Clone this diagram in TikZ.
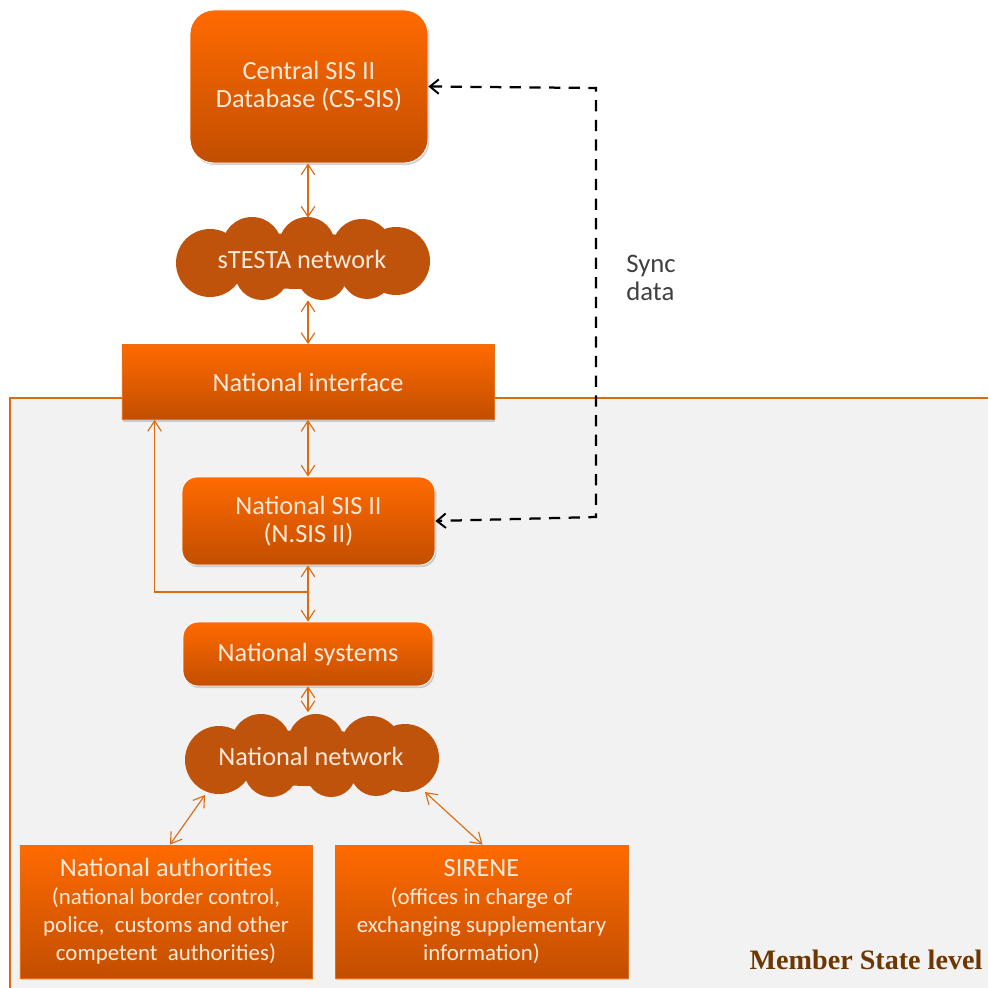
\documentclass[tikz,border=0pt]{standalone}
\usepackage{fontspec}
\setmainfont{Carlito}
\newfontfamily\levelfont{Liberation Serif}
\usepackage{xcolor}
\usepackage{tikz}
\usetikzlibrary{calc,arrows.meta,shadows}
\definecolor{sisTop}{HTML}{FF6A00}
\definecolor{sisBottom}{HTML}{C24E00}
\definecolor{sisLine}{HTML}{E0701A}
\definecolor{cloudFill}{HTML}{BF530C}
\definecolor{sisText}{HTML}{FFE9D9}
\definecolor{stateGrey}{HTML}{F2F2F2}
\definecolor{stateLine}{HTML}{DC6A12}
\definecolor{stateBrown}{HTML}{6E3600}
\definecolor{syncGrey}{HTML}{404040}
\newcommand{\subsize}{\fontsize{16.3}{17}\selectfont}
% puffs of a network cloud: dx/dy/radius in px from its centre
\newcommand{\cloudpuffs}{-92/4/34, -50/-12/30, 5/-14/28, 60/-10/30, 94/2/34, -40/14/27, 20/16/25, 65/14/26}
\tikzset{
  sisbox/.style={rectangle, draw=#1, line width=0.6pt, top color=sisTop, bottom color=sisBottom, text=sisText, align=center, font=\fontsize{18.7}{20}\selectfont, inner sep=2pt, drop shadow={shadow xshift=1pt, shadow yshift=-1.5pt, opacity=0.35}},
  sisbox/.default=sisLine,
  sisround/.style={sisbox=white, rounded corners=#1},
  sisnet/.style={rectangle, text=sisText, font=\fontsize{18.7}{20}\selectfont, inner sep=0pt},
  puff/.style={fill=cloudFill},
  linkarrow/.style={>={Straight Barb[length=2.6mm,width=3.4mm]}, line width=0.8pt, draw=stateLine},
  syncarrow/.style={>={Straight Barb[length=2.2mm,width=3.6mm,line width=1.4pt]}, line width=1.6pt, dash pattern=on 8pt off 6pt},
}
\begin{document}
\begin{tikzpicture}[x=0.25mm,y=-0.25mm]
  \useasboundingbox (0,0) rectangle (988,988);
  % member state area
  \fill[stateGrey] (10,398) rectangle (988,988);
  \draw[stateLine, line width=2pt] (10,988) -- (10,398) -- (988,398);
  \node[font=\levelfont\bfseries\fontsize{20}{22}\selectfont, text=stateBrown] (level) at (866,960) {Member State level};

  % clouds
  \foreach \cx/\cy in {302/259, 311/756} {
    \fill[puff] (\cx,\cy+2) ellipse [x radius=25mm, y radius=7mm];
    \foreach \dx/\dy/\r in \cloudpuffs { \fill[puff] (\cx+\dx,\cy+\dy) circle [radius=\r*0.25mm]; }
  }

  \node[sisround=6mm, minimum width=59.5mm, minimum height=38.25mm] (central) at (309,86.5) {Central SIS II\\Database (CS-SIS)};
  \node[sisnet, minimum width=63.75mm, minimum height=20.5mm] (testa) at (302,259) {sTESTA network};
  \node[sisbox, minimum width=93mm, minimum height=18.75mm] (iface) at (308,382) {National interface};
  \node[sisround=3.75mm, minimum width=63.25mm, minimum height=22mm] (nsis) at (308.5,521) {National SIS II\\(N.SIS II)};
  \node[sisround=3.75mm, minimum width=62.5mm, minimum height=16mm] (natsys) at (308,654) {National systems};
  \node[sisnet, minimum width=64.25mm, minimum height=21.75mm] (natnet) at (311,756) {National network};
  \node[sisbox, minimum width=73mm, minimum height=33.25mm] (auth) at (166,911.5) {National authorities\\{\subsize (national border control,}\\{\subsize police,\ \ customs and other}\\{\subsize competent\ \ authorities)}};
  \node[sisbox, minimum width=73.25mm, minimum height=33.25mm] (sirene) at (481.5,911.5) {SIRENE\\{\subsize (offices in charge of}\\{\subsize exchanging supplementary}\\{\subsize information)}};

  \coordinate (fork) at (308,592);
  \coordinate (syncTop) at (596,88);
  \coordinate (syncBot) at (596,517);

  \foreach \a/\b in {central/testa, testa/iface, iface/nsis, nsis/natsys, natsys/natnet} { \draw[linkarrow, <->] (\a.south -| 308,0) -- (\b.north -| 308,0); }
  \draw[linkarrow, ->] (fork) -| ($(iface.south west)+(33,0)$);
  \draw[linkarrow, <->] ($(natnet)+(-106,39)$) -- ($(auth.north)+(4,0)$);
  \draw[linkarrow, <->] ($(natnet)+(114,36)$) -- ($(sirene.north)+(1,0)$);

  \draw[syncarrow, <->] (central.east) -- (syncTop) -- (syncBot) -- (nsis.east);
  \node[text=syncGrey, align=left, font=\fontsize{19}{20}\selectfont] (synclabel) at (651,278) {Sync\\data};
\end{tikzpicture}
\end{document}
